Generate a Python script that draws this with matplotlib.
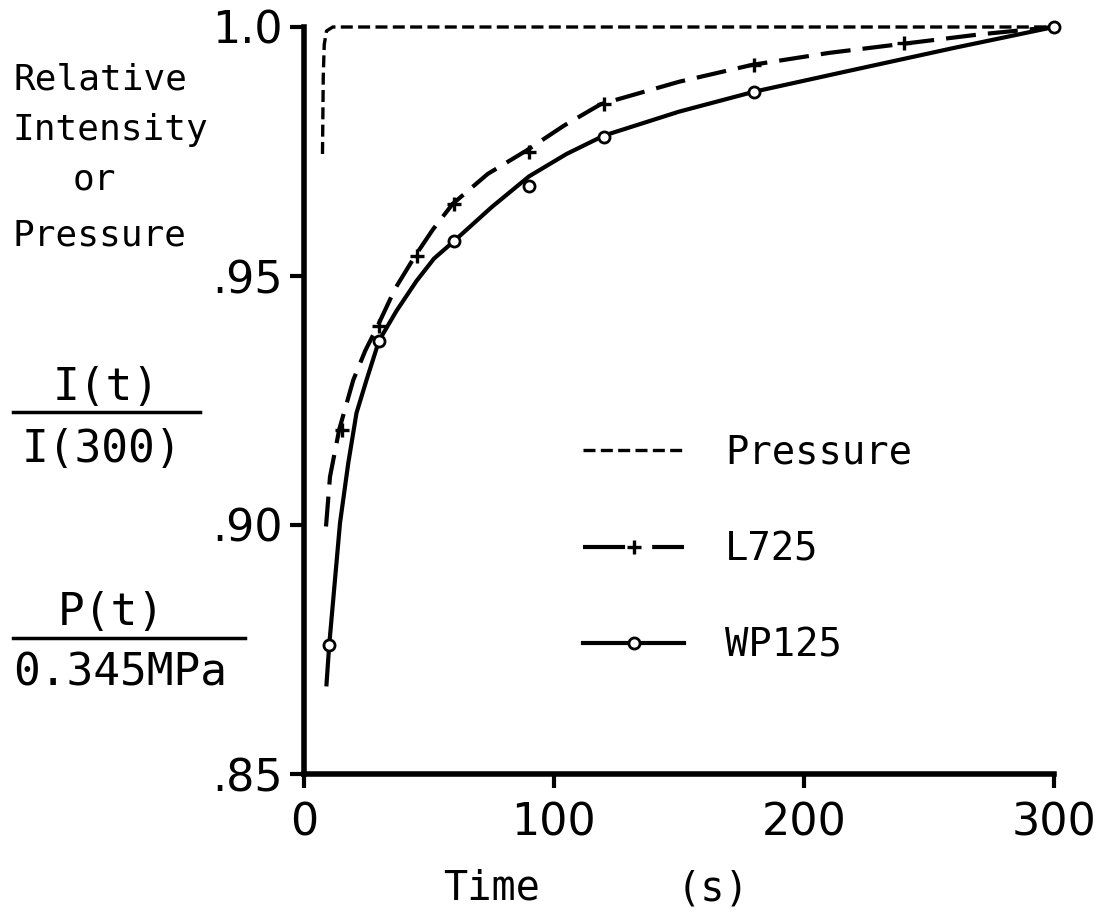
import matplotlib
matplotlib.use("Agg")
import matplotlib.pyplot as plt
from matplotlib.lines import Line2D

# data
p_t = [7.4, 7.7, 8.1, 9.0, 11.5, 300]
p_y = [0.9745, 0.990, 0.9965, 0.9992, 1.0, 1.0]

l725_t = [8.8, 10.4, 14.1, 19.7, 24.5, 29.3, 36.5, 44.4, 51.5, 59.5, 73.5, 89, 104, 118.7, 150, 179.3, 210, 240.8, 270, 300]
l725_y = [0.8997, 0.9097, 0.9192, 0.9291, 0.9350, 0.9398, 0.9475, 0.954, 0.9593, 0.9645, 0.9705, 0.9752,
          0.9802, 0.9845, 0.9890, 0.9924, 0.9948, 0.9967, 0.9985, 1.0]
l725_mt = [15, 30, 45, 60, 90, 120, 180, 240]
l725_my = [0.919, 0.940, 0.954, 0.9645, 0.975, 0.9845, 0.9924, 0.9967]

wp_t = [9, 10.1, 14.4, 17.7, 21, 25, 30, 37, 45, 52, 60, 75, 90, 105, 120, 150, 180, 218, 260, 300]
wp_y = [0.868, 0.876, 0.9004, 0.9124, 0.9225, 0.9291, 0.937, 0.943, 0.949, 0.9535, 0.957, 0.9638, 0.9700,
        0.9745, 0.9782, 0.9830, 0.9870, 0.9912, 0.9958, 1.0]
wp_mt = [10, 30, 60, 90, 120, 180, 300]
wp_my = [0.876, 0.937, 0.957, 0.968, 0.978, 0.987, 1.0]

xticks = [0, 100, 200, 300]
xlabels = ["0", "100", "200", "300"]
yticks = [0.85, 0.90, 0.95, 1.0]
ylabels = [".85", ".90", ".95", "1.0"]

W, H = 1106, 915
MONO = "DejaVu Sans Mono"

def px(x, y):
    return x / W, 1 - y / H

fig = plt.figure(figsize=(W / 100, H / 100), dpi=100)
ax = fig.add_axes([304 / W, 1 - 774 / H, 750 / W, 747 / H])

lw = 3.0
ax.plot(p_t, p_y, color="black", lw=2.4, dashes=(3.6, 1.6), clip_on=False)
ax.plot(l725_t, l725_y, color="black", lw=lw, dashes=(7.2, 2.9), clip_on=False)
ax.plot(l725_mt, l725_my, ls="none", marker="+", ms=10, mew=2.4, color="black", clip_on=False)
ax.plot(wp_t, wp_y, color="black", lw=lw, clip_on=False)
ax.plot(wp_mt, wp_my, ls="none", marker="o", ms=8, mew=2.0, mfc="white", mec="black", clip_on=False)

ax.set_xlim(0, 300)
ax.set_ylim(0.85, 1.0)
ax.set_xticks(xticks)
ax.set_xticklabels(xlabels)
ax.set_yticks(yticks)
ax.set_yticklabels(ylabels)
for s in ["top", "right"]:
    ax.spines[s].set_visible(False)
for s in ["left", "bottom"]:
    ax.spines[s].set_linewidth(4)
ax.tick_params(direction="out", length=10, width=3, labelsize=32)
ax.tick_params(axis="x", pad=10)
ax.tick_params(axis="y", pad=5)
for lab in ax.get_xticklabels() + ax.get_yticklabels():
    lab.set_family("DejaVu Sans")

# legend
h_p = Line2D([], [], color="black", lw=2.4, dashes=(3.6, 1.6))
h_l = Line2D([], [], color="black", lw=lw, dashes=(10.1, 6.5), marker="+", ms=10, mew=2.4)
h_w = Line2D([], [], color="black", lw=lw, marker="o", ms=8, mew=2.0, mfc="white")
ax.legend([h_p, h_l, h_w], ["Pressure", "L725", "WP125"], loc="upper left",
          bbox_to_anchor=px(583, 434), bbox_transform=fig.transFigure,
          frameon=False, numpoints=1, borderpad=0, borderaxespad=0,
          handlelength=2.6, handletextpad=1.05, labelspacing=1.5,
          prop={"family": MONO, "size": 28})

# left label text
fig.text(*px(13, 90), "Relative", family=MONO, size=26, va="baseline")
fig.text(*px(13, 140), "Intensity", family=MONO, size=26, va="baseline")
fig.text(*px(73, 190), "or", family=MONO, size=26, va="baseline")
fig.text(*px(13, 245), "Pressure", family=MONO, size=26, va="baseline")

fig.text(*px(106, 400), "I(t)", family=MONO, size=32, va="baseline", ha="center")
fig.add_artist(Line2D([13 / W, 200 / W], [1 - 412 / H, 1 - 412 / H], color="black", lw=2.5))
fig.text(*px(22, 462), "I(300)", family=MONO, size=32, va="baseline")

fig.text(*px(111, 625), "P(t)", family=MONO, size=32, va="baseline", ha="center")
fig.add_artist(Line2D([13 / W, 245 / W], [1 - 638 / H, 1 - 638 / H], color="black", lw=2.5))
fig.text(*px(13, 686), "0.345MPa", family=MONO, size=32, va="baseline")

fig.text(*px(443, 900), "Time", family=MONO, size=29, va="baseline")
fig.text(*px(677, 900), "(s)", family=MONO, size=29, va="baseline")

fig.savefig("out.png", dpi=100)
